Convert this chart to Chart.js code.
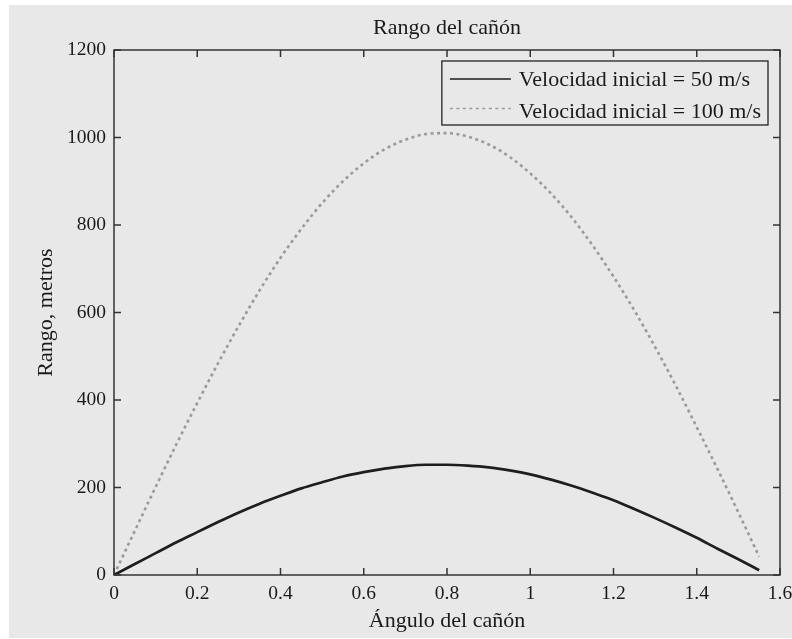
<!DOCTYPE html>
<html><head><meta charset="utf-8">
<script src="https://cdn.jsdelivr.net/npm/chart.js@4.4.1/dist/chart.umd.min.js"></script>
<style>html,body{margin:0;padding:0;background:#fff;}#wrap{width:792px;height:639px;}</style>
</head><body><div id="wrap"><canvas id="c" width="792" height="639"></canvas></div>
<script>
const angles = [0,0.05,0.1,0.15,0.2,0.25,0.3,0.35,0.4,0.45,0.5,0.55,0.6,0.65,0.7,0.75,0.8,0.85,0.9,0.95,1,1.05,1.1,1.15,1.2,1.25,1.3,1.35,1.4,1.45,1.5,1.55];
const range50 = [0,25,50,75,98,121,143,163,181,198,212,225,235,243,249,252,252,250,246,239,230,218,204,188,171,151,130,108,85,60,36,11];
const range100 = [0,101,201,299,393,484,570,651,725,791,850,900,941,973,995,1008,1010,1002,984,956,918,872,817,753,682,605,521,432,338,242,143,42];
const xTicks = [0,0.2,0.4,0.6,0.8,1,1.2,1.4,1.6];
const xTickLabels = ['0','0.2','0.4','0.6','0.8','1','1.2','1.4','1.6'];
const yTicks = [0,200,400,600,800,1000,1200];
const yTickLabels = ['0','200','400','600','800','1000','1200'];
const seriesLabels = ['Velocidad inicial = 50 m/s','Velocidad inicial = 100 m/s'];
const titleText = 'Rango del cañón';
const xTitle = 'Ángulo del cañón';
const yTitle = 'Rango, metros';

const FONT = '"Liberation Serif", "Times New Roman", serif';
const BG = '#e8e8e8';
const AXC = '#333333';
const TXT = '#1a1a1a';

const bgPlugin = {
  id: 'bg',
  beforeDraw(chart) {
    const ctx = chart.ctx;
    ctx.save();
    ctx.fillStyle = BG;
    ctx.fillRect(9, 5, chart.width - 9, chart.height - 6);
    ctx.restore();
  }
};

const boxPlugin = {
  id: 'box',
  afterDatasetsDraw(chart) {
    const {ctx, chartArea: a, scales} = chart;
    ctx.save();
    ctx.strokeStyle = AXC;
    ctx.lineWidth = 1.5;
    ctx.strokeRect(a.left, a.top, a.right - a.left, a.bottom - a.top);
    const tl = 7;
    ctx.beginPath();
    scales.x.ticks.forEach(t => {
      const px = scales.x.getPixelForValue(t.value);
      ctx.moveTo(px, a.bottom); ctx.lineTo(px, a.bottom - tl);
      ctx.moveTo(px, a.top); ctx.lineTo(px, a.top + tl);
    });
    scales.y.ticks.forEach(t => {
      const py = scales.y.getPixelForValue(t.value);
      ctx.moveTo(a.left, py); ctx.lineTo(a.left + tl, py);
      ctx.moveTo(a.right, py); ctx.lineTo(a.right - tl, py);
    });
    ctx.stroke();

    // legend
    ctx.font = '22px ' + FONT;
    const tw = Math.max(...chart.data.datasets.map(d => ctx.measureText(d.label).width));
    const lineLen = 61, padL = 8, gap = 8, padR = 7;
    const w = padL + lineLen + gap + tw + padR;
    const h = 64;
    const x0 = a.right - 12 - w, y0 = a.top + 11;
    ctx.fillStyle = BG;
    ctx.fillRect(x0, y0, w, h);
    ctx.strokeStyle = '#222';
    ctx.lineWidth = 1.3;
    ctx.strokeRect(x0, y0, w, h);
    chart.data.datasets.forEach((d, i) => {
      const ly = y0 + 18 + i * 29.5;
      const by = y0 + 25 + i * 32;
      ctx.beginPath();
      ctx.strokeStyle = d.borderColor;
      ctx.lineWidth = 1.6;
      ctx.setLineDash(d.borderDash || []);
      ctx.moveTo(x0 + padL, ly); ctx.lineTo(x0 + padL + lineLen, ly);
      ctx.stroke();
      ctx.setLineDash([]);
      ctx.fillStyle = TXT;
      ctx.textBaseline = 'alphabetic';
      ctx.textAlign = 'left';
      ctx.fillText(d.label, x0 + padL + lineLen + gap, by);
    });
    ctx.restore();
  }
};

new Chart(document.getElementById('c'), {
  type: 'line',
  data: {
    datasets: [
      { label: seriesLabels[0], data: angles.map((a, i) => ({x: a, y: range50[i]})),
        borderColor: '#1e1e1e', borderWidth: 2.7, pointRadius: 0, fill: false, cubicInterpolationMode: 'monotone' },
      { label: seriesLabels[1], data: angles.map((a, i) => ({x: a, y: range100[i]})),
        borderColor: '#9a9a9a', borderWidth: 2.6, borderDash: [3, 3.5], pointRadius: 0, fill: false, cubicInterpolationMode: 'monotone' }
    ]
  },
  options: {
    responsive: false,
    animation: false,
    devicePixelRatio: 1,
    layout: { padding: { left: 0, right: 12, top: 0, bottom: 0 } },
    plugins: {
      legend: { display: false },
      tooltip: { enabled: false },
      title: { display: false }
    },
    scales: {
      x: {
        type: 'linear', min: 0, max: 1.6,
        afterBuildTicks: s => { s.ticks = xTicks.map(v => ({value: v})); },
        afterFit: s => { s.height = 64; s.paddingRight = 0; s.paddingLeft = 0; },
        grid: { display: false, drawTicks: false },
        border: { display: false },
        ticks: { color: TXT, font: { family: FONT, size: 19.5 }, padding: 7, maxRotation: 0,
          callback: (v) => xTickLabels[xTicks.indexOf(v)] ?? '' },
        title: { display: true, text: xTitle, color: TXT, font: { family: FONT, size: 22 }, padding: { top: 0, bottom: 5 } }
      },
      xTop: {
        type: 'linear', position: 'top', min: 0, max: 1.6,
        afterFit: s => { s.height = 50; s.paddingRight = 0; s.paddingLeft = 0; },
        grid: { display: false, drawTicks: false },
        border: { display: false },
        ticks: { display: false },
        title: { display: true, text: titleText, color: TXT, font: { family: FONT, size: 22 }, padding: { top: 15, bottom: 0 } }
      },
      y: {
        type: 'linear', min: 0, max: 1200,
        afterBuildTicks: s => { s.ticks = yTicks.map(v => ({value: v})); },
        afterFit: s => { s.width = 114; s.paddingTop = 0; s.paddingBottom = 0; },
        grid: { display: false, drawTicks: false },
        border: { display: false },
        ticks: { color: TXT, font: { family: FONT, size: 19.5 }, padding: 8,
          callback: (v) => yTickLabels[yTicks.indexOf(v)] ?? '' },
        title: { display: true, text: yTitle, color: TXT, font: { family: FONT, size: 22 }, padding: { top: 33, bottom: 0 } }
      }
    }
  },
  plugins: [bgPlugin, boxPlugin]
});
</script></body></html>
